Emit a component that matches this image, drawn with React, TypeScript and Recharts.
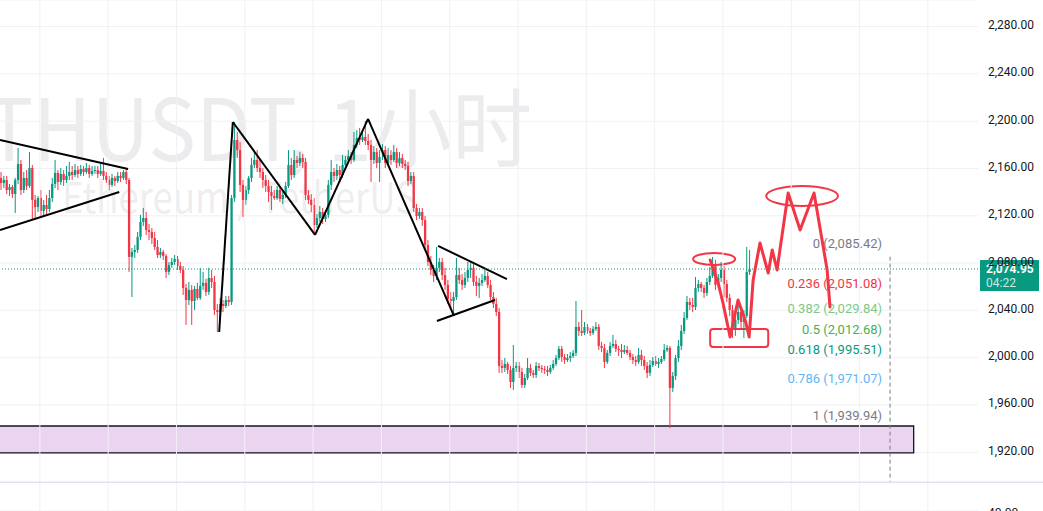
import React from 'react';
import { ComposedChart, Bar, Line, XAxis, YAxis, CartesianGrid, ReferenceLine, ReferenceArea } from 'recharts';

const WIDTH = 1043;
const HEIGHT = 511;
const AXIS_W = 65;
const GREEN = '#089981';
const RED = '#f23645';
const SKETCH_RED = '#f23645';
const GRID = '#eff1f4';

// ---------- candle data (ETHUSDT 1h) ----------
const opens = [
  2152.0, 2147.7, 2150.3, 2141.8, 2144.4, 2138.4, 2150.3, 2163.8, 2141.8, 2152.0,
  2145.2, 2160.4, 2133.4, 2127.4, 2135.0, 2124.1, 2129.1, 2125.7, 2135.0, 2146.9,
  2156.2, 2148.6, 2155.4, 2150.3, 2153.7, 2157.0, 2154.5, 2158.7, 2155.4, 2159.6,
  2157.0, 2160.4, 2155.4, 2157.9, 2158.7, 2155.4, 2157.9, 2153.7, 2150.3, 2146.1,
  2152.0, 2149.4, 2153.7, 2152.0, 2157.0, 2150.3, 2085.2, 2089.4, 2091.1, 2102.1,
  2114.8, 2118.1, 2108.0, 2106.3, 2101.2, 2093.6, 2086.8, 2089.4, 2086.0, 2072.5,
  2078.4, 2080.9, 2083.5, 2077.5, 2074.2, 2059.0, 2048.8, 2057.3, 2047.9, 2058.1,
  2050.5, 2060.7, 2063.2, 2055.6, 2067.4, 2064.0, 2040.3, 2038.6, 2045.4, 2043.7,
  2048.8, 2047.1, 2135.0, 2184.1, 2175.6, 2146.1, 2133.4, 2141.8, 2152.0, 2163.0,
  2167.2, 2160.4, 2157.0, 2150.3, 2145.2, 2140.1, 2136.7, 2135.0, 2141.8, 2134.2,
  2137.6, 2145.2, 2163.0, 2154.5, 2167.2, 2164.7, 2168.9, 2165.5, 2137.6, 2133.4,
  2129.1, 2112.2, 2118.1, 2123.2, 2117.3, 2120.7, 2146.1, 2157.0, 2153.7, 2158.7,
  2154.5, 2163.0, 2167.2, 2170.6, 2167.2, 2179.9, 2185.8, 2184.1, 2186.6, 2183.3,
  2179.9, 2167.2, 2173.9, 2164.7, 2169.7, 2175.6, 2164.7, 2171.4, 2167.2, 2173.9,
  2164.7, 2168.9, 2163.8, 2162.1, 2149.4, 2153.7, 2126.6, 2119.8, 2123.2, 2116.4,
  2095.3, 2080.9, 2074.2, 2069.1, 2075.9, 2080.9, 2069.9, 2061.5, 2049.6, 2047.9,
  2051.3, 2069.9, 2065.7, 2061.5, 2067.4, 2074.2, 2075.9, 2064.0, 2060.7, 2063.2,
  2065.7, 2069.1, 2061.5, 2051.3, 2045.4, 2038.6, 1993.0, 1991.3, 1994.7, 1989.6,
  1979.4, 1991.3, 1993.0, 1987.9, 1976.9, 1982.8, 1991.3, 1987.1, 1985.4, 1993.0,
  1991.3, 1990.4, 1989.6, 1987.9, 1991.3, 1994.7, 1999.7, 2007.4, 2000.6, 1998.0,
  1999.7, 2001.4, 2004.0, 2026.0, 2022.6, 2020.9, 2026.0, 2022.6, 2020.9, 2024.3,
  2026.0, 2009.9, 2008.2, 1996.4, 2004.0, 2009.9, 2011.6, 2007.4, 2006.5, 2004.8,
  2006.5, 2004.0, 2000.6, 1998.0, 1996.4, 2002.3, 1998.0, 1993.0, 1987.1, 1993.8,
  1997.2, 1994.7, 1996.4, 1998.9, 2006.5, 2008.2, 1974.4, 1984.5, 1999.7, 2009.9,
  2022.6, 2033.6, 2047.1, 2044.6, 2042.9, 2059.0, 2062.3, 2059.0, 2054.7, 2064.0,
  2069.1, 2079.2, 2061.5, 2067.4, 2074.2, 2062.3, 2050.5, 2040.3, 2025.1, 2031.9,
  2038.6, 2030.2, 2035.3, 2072.5,
];

const highs = [
  2157.0, 2153.7, 2153.7, 2146.9, 2146.1, 2152.0, 2177.3, 2167.2, 2157.0, 2158.7,
  2173.9, 2163.0, 2137.6, 2136.7, 2141.8, 2133.4, 2137.6, 2141.8, 2152.0, 2167.2,
  2158.7, 2160.4, 2158.7, 2162.1, 2165.5, 2162.1, 2163.8, 2162.1, 2163.0, 2162.1,
  2164.7, 2163.0, 2162.1, 2162.1, 2162.1, 2165.5, 2168.9, 2157.0, 2153.7, 2155.4,
  2153.7, 2157.0, 2157.0, 2158.7, 2160.4, 2152.0, 2092.8, 2095.3, 2106.3, 2120.7,
  2126.6, 2123.2, 2113.1, 2109.7, 2106.3, 2099.5, 2092.8, 2091.1, 2087.7, 2080.9,
  2084.3, 2086.8, 2086.0, 2080.9, 2077.5, 2062.3, 2064.0, 2061.5, 2060.7, 2063.2,
  2075.9, 2072.5, 2066.6, 2075.9, 2074.2, 2069.1, 2045.4, 2050.5, 2048.8, 2052.2,
  2052.2, 2137.6, 2199.3, 2190.9, 2182.4, 2150.3, 2145.2, 2153.7, 2168.9, 2173.9,
  2175.6, 2167.2, 2160.4, 2154.5, 2150.3, 2145.2, 2141.8, 2145.2, 2145.2, 2141.8,
  2148.6, 2175.6, 2168.9, 2175.6, 2170.6, 2173.9, 2172.3, 2168.9, 2141.8, 2138.4,
  2135.0, 2121.5, 2128.3, 2126.6, 2124.9, 2150.3, 2167.2, 2160.4, 2163.8, 2162.1,
  2171.4, 2170.6, 2175.6, 2173.9, 2190.9, 2192.6, 2194.3, 2192.6, 2200.2, 2189.2,
  2184.1, 2179.0, 2177.3, 2175.6, 2180.7, 2179.0, 2177.3, 2175.6, 2179.9, 2177.3,
  2173.9, 2172.3, 2167.2, 2165.5, 2157.0, 2157.0, 2130.0, 2126.6, 2126.6, 2119.8,
  2099.5, 2086.0, 2078.4, 2093.6, 2084.3, 2084.3, 2075.9, 2065.7, 2055.6, 2055.6,
  2084.3, 2075.9, 2070.8, 2072.5, 2080.9, 2080.1, 2079.2, 2069.1, 2067.4, 2070.8,
  2075.9, 2072.5, 2065.7, 2055.6, 2050.5, 2042.0, 1998.0, 1999.7, 1996.4, 1993.0,
  2010.7, 1996.4, 1996.4, 1991.3, 1986.2, 1999.7, 1994.7, 1989.6, 1996.4, 1995.5,
  1993.8, 1993.0, 1993.0, 1993.8, 1998.0, 2002.3, 2009.9, 2009.9, 2003.1, 2003.1,
  2004.8, 2006.5, 2047.9, 2030.2, 2040.3, 2030.2, 2028.5, 2025.1, 2026.8, 2030.2,
  2028.5, 2013.3, 2011.6, 2006.5, 2013.3, 2019.2, 2015.0, 2009.9, 2011.6, 2010.7,
  2009.9, 2006.5, 2003.1, 2001.4, 2008.2, 2006.5, 2001.4, 1996.4, 1998.0, 2000.6,
  2001.4, 1999.7, 2001.4, 2011.6, 2010.7, 2009.9, 1987.9, 2002.3, 2015.0, 2027.7,
  2038.6, 2052.2, 2050.5, 2050.5, 2068.2, 2065.7, 2064.0, 2061.5, 2067.4, 2076.7,
  2085.2, 2082.6, 2070.8, 2080.9, 2077.5, 2065.7, 2053.9, 2044.6, 2037.0, 2044.6,
  2043.7, 2040.3, 2093.6, 2091.1,
];

const lows = [
  2141.8, 2143.5, 2138.4, 2136.7, 2135.0, 2122.4, 2146.9, 2137.6, 2139.3, 2141.8,
  2143.5, 2116.4, 2118.1, 2123.2, 2118.1, 2119.8, 2121.5, 2123.2, 2131.7, 2143.5,
  2141.8, 2146.1, 2145.2, 2147.7, 2150.3, 2150.3, 2152.8, 2152.0, 2153.7, 2153.7,
  2155.4, 2152.0, 2153.7, 2155.4, 2152.0, 2153.7, 2150.3, 2147.7, 2141.8, 2144.4,
  2145.2, 2147.7, 2148.6, 2150.3, 2146.9, 2072.5, 2051.3, 2084.3, 2088.5, 2099.5,
  2111.4, 2103.8, 2099.5, 2096.2, 2091.1, 2084.3, 2084.3, 2082.6, 2067.4, 2069.9,
  2075.9, 2078.4, 2074.2, 2071.6, 2053.0, 2027.7, 2044.6, 2027.7, 2040.3, 2048.8,
  2048.8, 2057.3, 2052.2, 2053.0, 2059.0, 2036.1, 2021.7, 2033.6, 2038.6, 2042.0,
  2043.7, 2044.6, 2131.7, 2168.9, 2140.1, 2119.0, 2129.1, 2138.4, 2148.6, 2160.4,
  2157.0, 2152.0, 2143.5, 2140.1, 2131.7, 2124.9, 2133.4, 2133.4, 2131.7, 2130.0,
  2135.0, 2143.5, 2150.3, 2152.0, 2160.4, 2162.1, 2160.4, 2133.4, 2130.0, 2123.2,
  2105.5, 2109.7, 2114.8, 2113.1, 2114.8, 2118.1, 2141.8, 2148.6, 2150.3, 2148.6,
  2152.0, 2158.7, 2164.7, 2163.8, 2165.5, 2177.3, 2179.9, 2182.4, 2179.9, 2175.6,
  2148.6, 2163.8, 2160.4, 2148.6, 2167.2, 2160.4, 2162.1, 2163.0, 2165.5, 2160.4,
  2162.1, 2160.4, 2158.7, 2145.2, 2146.9, 2123.2, 2116.4, 2117.3, 2111.4, 2091.1,
  2077.5, 2069.9, 2064.0, 2065.7, 2072.5, 2065.7, 2057.3, 2045.4, 2040.3, 2036.9,
  2048.8, 2062.3, 2057.3, 2059.0, 2064.0, 2067.4, 2060.7, 2052.2, 2050.5, 2060.7,
  2064.0, 2059.0, 2048.8, 2042.0, 2035.3, 1987.1, 1987.1, 1987.9, 1986.2, 1974.4,
  1972.7, 1987.9, 1982.8, 1974.4, 1974.4, 1981.1, 1984.5, 1982.8, 1982.8, 1988.7,
  1987.1, 1986.2, 1984.5, 1986.2, 1989.6, 1993.0, 1998.0, 1996.4, 1994.7, 1996.4,
  1996.4, 1999.7, 2001.4, 2018.4, 2018.4, 2019.2, 2020.0, 2018.4, 2019.2, 2022.6,
  2006.5, 2004.8, 1991.3, 1994.7, 2001.4, 2008.2, 2004.8, 2001.4, 1999.7, 2003.1,
  2002.3, 1998.0, 1994.7, 1993.0, 1994.7, 1993.0, 1989.6, 1982.8, 1984.5, 1992.1,
  1993.0, 1991.3, 1994.7, 1997.2, 2004.8, 1940.5, 1971.0, 1981.1, 1996.4, 2006.5,
  2020.0, 2031.9, 2040.3, 2038.6, 2040.3, 2055.6, 2055.6, 2050.5, 2052.2, 2061.5,
  2067.4, 2057.3, 2059.0, 2064.0, 2051.3, 2047.1, 2035.3, 2016.7, 2018.4, 2028.5,
  2023.4, 2016.7, 2033.6, 2069.9,
];

const closes = [
  2147.7, 2150.3, 2141.8, 2144.4, 2138.4, 2150.3, 2163.8, 2141.8, 2152.0, 2145.2,
  2160.4, 2133.4, 2127.4, 2135.0, 2124.1, 2129.1, 2125.7, 2135.0, 2146.9, 2156.2,
  2148.6, 2155.4, 2150.3, 2153.7, 2157.0, 2154.5, 2158.7, 2155.4, 2159.6, 2157.0,
  2160.4, 2155.4, 2157.9, 2158.7, 2155.4, 2157.9, 2153.7, 2150.3, 2146.1, 2152.0,
  2149.4, 2153.7, 2152.0, 2157.0, 2150.3, 2085.2, 2089.4, 2091.1, 2102.1, 2114.8,
  2118.1, 2108.0, 2106.3, 2101.2, 2093.6, 2086.8, 2089.4, 2086.0, 2072.5, 2078.4,
  2080.9, 2083.5, 2077.5, 2074.2, 2059.0, 2048.8, 2057.3, 2047.9, 2058.1, 2050.5,
  2060.7, 2063.2, 2055.6, 2067.4, 2064.0, 2040.3, 2038.6, 2045.4, 2043.7, 2048.8,
  2047.1, 2135.0, 2184.1, 2175.6, 2146.1, 2133.4, 2141.8, 2152.0, 2163.0, 2167.2,
  2160.4, 2157.0, 2150.3, 2145.2, 2140.1, 2136.7, 2135.0, 2141.8, 2134.2, 2137.6,
  2145.2, 2163.0, 2154.5, 2167.2, 2164.7, 2168.9, 2165.5, 2137.6, 2133.4, 2129.1,
  2112.2, 2118.1, 2123.2, 2117.3, 2120.7, 2146.1, 2157.0, 2153.7, 2158.7, 2154.5,
  2163.0, 2167.2, 2170.6, 2167.2, 2179.9, 2185.8, 2184.1, 2186.6, 2183.3, 2179.9,
  2167.2, 2173.9, 2164.7, 2169.7, 2175.6, 2164.7, 2171.4, 2167.2, 2173.9, 2164.7,
  2168.9, 2163.8, 2162.1, 2149.4, 2153.7, 2126.6, 2119.8, 2123.2, 2116.4, 2095.3,
  2080.9, 2074.2, 2069.1, 2075.9, 2080.9, 2069.9, 2061.5, 2049.6, 2047.9, 2051.3,
  2069.9, 2065.7, 2061.5, 2067.4, 2074.2, 2075.9, 2064.0, 2060.7, 2063.2, 2065.7,
  2069.1, 2061.5, 2051.3, 2045.4, 2038.6, 1993.0, 1991.3, 1994.7, 1989.6, 1979.4,
  1991.3, 1993.0, 1987.9, 1976.9, 1982.8, 1991.3, 1987.1, 1985.4, 1993.0, 1991.3,
  1990.4, 1989.6, 1987.9, 1991.3, 1994.7, 1999.7, 2007.4, 2000.6, 1998.0, 1999.7,
  2001.4, 2004.0, 2026.0, 2022.6, 2020.9, 2026.0, 2022.6, 2020.9, 2024.3, 2026.0,
  2009.9, 2008.2, 1996.4, 2004.0, 2009.9, 2011.6, 2007.4, 2006.5, 2004.8, 2006.5,
  2004.0, 2000.6, 1998.0, 1996.4, 2002.3, 1998.0, 1993.0, 1987.1, 1993.8, 1997.2,
  1994.7, 1996.4, 1998.9, 2006.5, 2008.2, 1974.4, 1984.5, 1999.7, 2009.9, 2022.6,
  2033.6, 2047.1, 2044.6, 2042.9, 2059.0, 2062.3, 2059.0, 2054.7, 2064.0, 2069.1,
  2079.2, 2061.5, 2067.4, 2074.2, 2062.3, 2050.5, 2040.3, 2025.1, 2031.9, 2038.6,
  2030.2, 2035.3, 2072.5, 2074.95,
];

// ---------- axes ----------
const priceTicks = [1920, 1960, 2000, 2040, 2080, 2120, 2160, 2200, 2240, 2280];
const dayTicks = [13.5, 37.5, 61.5, 85.5, 109.5, 133.5, 157.5, 181.5, 205.5, 229.5, 253.5, 277.5, 301.5, 325.5];
const xDomain = [-0.5, 343.1];
const yDomain = [1870.3, 2302.5];

const lastPrice = 2074.95;
const lastPriceText = '2,074.95';
const countdownText = '04:22';
const lowerPaneText = '40.00';

// ---------- fibonacci retracement ----------
const fibRatios = ['0', '0.236', '0.382', '0.5', '0.618', '0.786', '1'];
const fibValues = [2085.42, 2051.08, 2029.84, 2012.68, 1995.51, 1971.07, 1939.94];
const fibValueTexts = ['2,085.42', '2,051.08', '2,029.84', '2,012.68', '1,995.51', '1,971.07', '1,939.94'];
const fibColors = ['#787b86', '#f23645', '#81c784', '#4caf50', '#089981', '#64b5f6', '#787b86'];
const fibStartX = 240;
const fibEndX = 309.4;
const fibBorderX = 312.2;
const fibBorderBottom = 1894.9;

// ---------- drawings (data coordinates: candle index, price) ----------
const trendX1 = [-0.5, -0.5, 76.5, 81.3, 110.2, 128.8, 153.4, 153.0];
const trendY1 = [2184.1, 2108.0, 2021.7, 2199.3, 2103.8, 2201.9, 2094.5, 2031.0];
const trendX2 = [44.5, 41.4, 81.3, 110.2, 128.8, 159.0, 177.6, 173.4];
const trendY2 = [2159.6, 2140.1, 2199.3, 2103.8, 2201.9, 2035.3, 2066.5, 2048.8];

const sketchX = [249.0, 251.8, 253.5, 256.0, 258.8, 261.3, 262.7, 264.1, 266.5, 269.4, 270.8, 272.5, 276.4, 280.6, 285.5, 290.1, 291.1];
const sketchY = [2082.6, 2063.2, 2046.3, 2017.5, 2048.8, 2031.9, 2017.5, 2065.7, 2097.0, 2071.6, 2091.1, 2074.2, 2139.3, 2108.0, 2139.3, 2074.2, 2042.9];

const ellipseX1 = [243.0, 268.7];
const ellipseX2 = [257.8, 293.9];
const ellipseY1 = [2078.4, 2128.3];
const ellipseY2 = [2088.5, 2145.2];

const boxX = [249.0, 269.4];
const boxY = [2009.0, 2024.3];

const zoneX = [-5, 320.5];
const zoneY = [1919.4, 1942.2];

const watermarkTitle = 'ETHUSDT, 1小时';
const watermarkSub = 'Ethereum / TetherUS';

// ---------- derived tables ----------
const candles = closes.map((c, i) => ({ i, o: opens[i], h: highs[i], l: lows[i], c }));
const sketch = sketchX.map((x, k) => ({ i: x, p: sketchY[k] }));

const fmt = (v: number) => v.toLocaleString('en-US', { minimumFractionDigits: 2, maximumFractionDigits: 2 });

const Candle = (props: any) => {
  const { x, y, width, height, payload } = props;
  if (!payload) return null;
  const { o, h, l, c } = payload;
  const top = Math.min(y, y + height);
  const hh = Math.abs(height);
  const cx = x + width / 2;
  const k = h - l > 0 ? hh / (h - l) : 0;
  const yO = top + (h - o) * k;
  const yC = top + (h - c) * k;
  const color = c >= o ? GREEN : RED;
  const bTop = Math.min(yO, yC);
  const bH = Math.max(Math.abs(yC - yO), 1);
  return (
    <g>
      <rect x={cx - 0.5} y={top} width={1} height={Math.max(hh, 1)} fill={color} />
      <rect x={cx - 1.15} y={bTop} width={2.3} height={bH} fill={color} />
    </g>
  );
};

const PriceTick = (props: any) => {
  const { x, y, payload } = props;
  return (
    <text x={x} y={y} dy={2.5} textAnchor="start" fill="#131722" fontSize={12} fontFamily="Roboto, sans-serif">
      {fmt(payload.value)}
    </text>
  );
};

const makeFibLabel = (k: number) => (props: any) => {
  const vb = props.viewBox || {};
  return (
    <text x={vb.x + vb.width} y={vb.y - 9} textAnchor="end" fill={fibColors[k]} fontSize={13} fontFamily="Roboto, sans-serif">
      {`${fibRatios[k]} (${fibValueTexts[k]})`}
    </text>
  );
};

const PriceTag = (props: any) => {
  const vb = props.viewBox || {};
  const left = vb.x + vb.width + 2;
  const y = vb.y;
  return (
    <g>
      <rect x={left} y={y - 9} width={59} height={31} fill={GREEN} />
      <text x={left + 6} y={y + 4} fill="#ffffff" fontSize={12} fontWeight={700} fontFamily="Roboto, sans-serif">{lastPriceText}</text>
      <text x={left + 6} y={y + 18} fill="rgba(255,255,255,0.8)" fontSize={12} fontFamily="Roboto, sans-serif">{countdownText}</text>
    </g>
  );
};

const EllipseShape = (props: any) => {
  const { x, y, width, height } = props;
  return <ellipse cx={x + width / 2} cy={y + height / 2} rx={Math.abs(width) / 2} ry={Math.abs(height) / 2} fill="none" stroke={SKETCH_RED} strokeWidth={2} />;
};

const BoxShape = (props: any) => {
  const { x, y, width, height } = props;
  return <rect x={x} y={y} width={width} height={height} rx={3} ry={3} fill="none" stroke={SKETCH_RED} strokeWidth={2} />;
};

export default function App() {
  return (
    <div style={{ position: 'absolute', left: 0, top: 0, width: WIDTH, height: HEIGHT, background: '#ffffff', overflow: 'hidden' }}>
      <svg style={{ position: 'absolute', left: 0, top: 0 }} width={WIDTH} height={HEIGHT}>
        <text x={-62} y={161} fontSize={86} fontFamily="'Noto Sans CJK SC', 'Noto Sans', sans-serif" fill="rgba(120,123,134,0.14)" textLength={594} lengthAdjust="spacingAndGlyphs">
          {watermarkTitle}
        </text>
        <text x={62} y={213} fontSize={42} fontFamily="'Noto Sans CJK SC', 'Noto Sans', sans-serif" fill="rgba(120,123,134,0.14)" textLength={355} lengthAdjust="spacingAndGlyphs">
          {watermarkSub}
        </text>
      </svg>
      <div style={{ position: 'absolute', left: 0, top: 0 }}>
        <ComposedChart width={WIDTH} height={HEIGHT} data={candles} margin={{ top: 0, right: 0, bottom: 0, left: 0 }}>
          <CartesianGrid stroke={GRID} strokeWidth={1} vertical={false} />
          <XAxis dataKey="i" type="number" domain={xDomain} allowDataOverflow ticks={dayTicks} tick={false} tickLine={false} axisLine={false} height={0} stroke="none" />
          <XAxis xAxisId="sketch" dataKey="i" type="number" domain={xDomain} allowDataOverflow hide />
          <YAxis orientation="right" type="number" domain={yDomain} allowDataOverflow ticks={priceTicks} interval={0} width={AXIS_W} tickLine={false} axisLine={false} stroke="none" tickSize={0} tickMargin={10} tick={<PriceTick />} />
          {dayTicks.map((t) => (
            <ReferenceLine key={`g${t}`} x={t} stroke={GRID} strokeWidth={1} />
          ))}
          <ReferenceArea x1={zoneX[0]} x2={zoneX[1]} y1={zoneY[0]} y2={zoneY[1]} ifOverflow="hidden" fill="#9c27b0" fillOpacity={0.2} stroke="#131722" strokeWidth={1.3} strokeOpacity={1} />
          <Bar dataKey={(d: any) => [d.l, d.h]} barSize={2} shape={<Candle />} isAnimationActive={false} />
          {trendX1.map((x1, k) => (
            <ReferenceLine key={`t${k}`} segment={[{ x: x1, y: trendY1[k] }, { x: trendX2[k], y: trendY2[k] }]} stroke="#000000" strokeWidth={2} ifOverflow="visible" />
          ))}
          <ReferenceLine segment={[{ x: fibBorderX, y: fibValues[0] }, { x: fibBorderX, y: fibBorderBottom }]} stroke="#787b86" strokeWidth={1} strokeDasharray="4 3" ifOverflow="visible" />
          {fibValues.map((v, k) => (
            <ReferenceLine key={`f${k}`} segment={[{ x: fibStartX, y: v }, { x: fibEndX, y: v }]} stroke="none" ifOverflow="visible" label={makeFibLabel(k)} />
          ))}
          <Line xAxisId="sketch" data={sketch} dataKey="p" type="linear" stroke={SKETCH_RED} strokeWidth={3} strokeLinejoin="round" strokeLinecap="round" dot={false} activeDot={false} isAnimationActive={false} />
          {ellipseX1.map((x1, k) => (
            <ReferenceArea key={`e${k}`} x1={x1} x2={ellipseX2[k]} y1={ellipseY1[k]} y2={ellipseY2[k]} ifOverflow="visible" shape={<EllipseShape />} />
          ))}
          <ReferenceArea x1={boxX[0]} x2={boxX[1]} y1={boxY[0]} y2={boxY[1]} ifOverflow="visible" shape={<BoxShape />} />
          <ReferenceLine y={lastPrice} stroke={GREEN} strokeWidth={1} strokeDasharray="1 2" label={<PriceTag />} />
        </ComposedChart>
      </div>
      <svg style={{ position: 'absolute', left: 0, top: 0, pointerEvents: 'none' }} width={WIDTH} height={HEIGHT}>
        <rect x={0} y={481.5} width={WIDTH} height={1.5} fill="#e0e3eb" />
        <text x={988} y={517} fill="#131722" fontSize={12} fontFamily="Roboto, sans-serif">{lowerPaneText}</text>
      </svg>
    </div>
  );
}
